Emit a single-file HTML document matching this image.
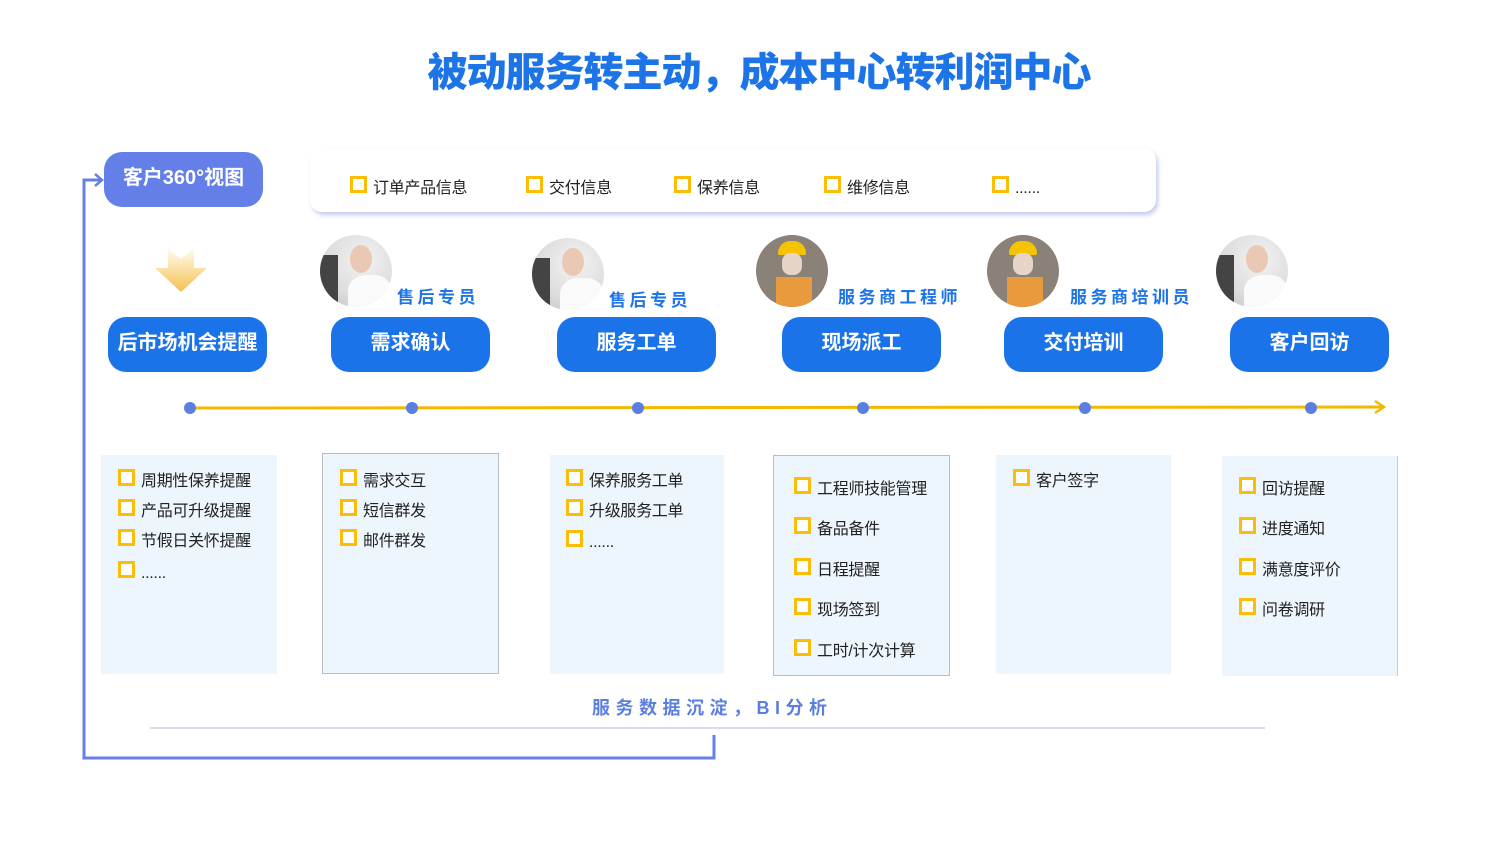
<!DOCTYPE html>
<html><head><meta charset="utf-8"><style>
*{margin:0;padding:0;box-sizing:border-box}
body{width:1500px;height:841px;background:#fff;position:relative;overflow:hidden;font-family:"Liberation Sans","Noto Sans CJK SC",sans-serif}
.a{position:absolute}
.title{left:0;width:1518px;top:46px;text-align:center;font-size:40px;font-weight:900;color:#1d74e6;letter-spacing:-1px;line-height:54px}
.btn{position:absolute;top:317px;width:159px;height:55px;border-radius:18px;background:#1a73e8;color:#fff;font-weight:700;font-size:20px;text-align:center;line-height:53px}
.role{position:absolute;color:#1d74e6;font-weight:700;font-size:17px;letter-spacing:3.5px}
.av{position:absolute;width:72px;height:72px;border-radius:50%;overflow:hidden;background:radial-gradient(circle at 60% 35%,#f3f3f3 0,#dcdcdc 60%,#bfbfbf 100%)}
.box{position:absolute;top:455px;height:219px;background:#eef6fd}
.it{position:absolute;font-size:16px;color:#222;white-space:nowrap;line-height:20px;letter-spacing:-0.3px}
.it:before{content:"";display:inline-block;width:11px;height:11px;border:3px solid #fbbd08;margin-right:6px;vertical-align:0px;background:#fff}
.dot{position:absolute;top:402px;width:12px;height:12px;border-radius:50%;background:#5b7fe0}
</style></head><body>
<div class="a title">被动服务转主动，成本中心转利润中心</div>

<div class="a" style="left:104px;top:152px;width:159px;height:55px;border-radius:18px;background:#6480e8;color:#fff;font-weight:700;font-size:20px;text-align:center;line-height:53px">客户360°视图</div>

<div class="a" style="left:310px;top:148px;width:846px;height:64px;border-radius:12px;background:#fff;box-shadow:2px 3px 4px rgba(120,140,220,0.45)"></div>
<div class="it" style="left:350px;top:176px">订单产品信息</div>
<div class="it" style="left:526px;top:176px">交付信息</div>
<div class="it" style="left:674px;top:176px">保养信息</div>
<div class="it" style="left:824px;top:176px">维修信息</div>
<div class="it" style="left:992px;top:176px">......</div>

<svg class="a" style="left:150px;top:245px" width="62" height="50"><defs><linearGradient id="g" x1="0" y1="0" x2="0" y2="1"><stop offset="0" stop-color="#fffdf0"/><stop offset="1" stop-color="#f3c050"/></linearGradient></defs><polygon points="18,3 31,14 44,3 44,23 57,23 31,47 5,23 18,23" fill="url(#g)"/></svg>

<div class="av" style="left:320px;top:235px"><div class="a" style="left:28px;top:40px;width:44px;height:40px;background:#fafafa;border-radius:40% 40% 0 0"></div><div class="a" style="left:30px;top:10px;width:22px;height:28px;border-radius:50%;background:#e9c8b4"></div><div class="a" style="left:0;top:20px;width:18px;height:52px;background:#444"></div></div>
<div class="av" style="left:532px;top:238px"><div class="a" style="left:28px;top:40px;width:44px;height:40px;background:#fafafa;border-radius:40% 40% 0 0"></div><div class="a" style="left:30px;top:10px;width:22px;height:28px;border-radius:50%;background:#e9c8b4"></div><div class="a" style="left:0;top:20px;width:18px;height:52px;background:#444"></div></div>
<div class="av" style="left:756px;top:235px;background:#8a8178"><div class="a" style="left:22px;top:6px;width:28px;height:14px;border-radius:14px 14px 2px 2px;background:#f5c400"></div><div class="a" style="left:26px;top:18px;width:20px;height:22px;background:#e6d4c6;border-radius:40%"></div><div class="a" style="left:20px;top:42px;width:36px;height:34px;background:#e89a3c"></div></div>
<div class="av" style="left:987px;top:235px;background:#8a8178"><div class="a" style="left:22px;top:6px;width:28px;height:14px;border-radius:14px 14px 2px 2px;background:#f5c400"></div><div class="a" style="left:26px;top:18px;width:20px;height:22px;background:#e6d4c6;border-radius:40%"></div><div class="a" style="left:20px;top:42px;width:36px;height:34px;background:#e89a3c"></div></div>
<div class="av" style="left:1216px;top:235px"><div class="a" style="left:28px;top:40px;width:44px;height:40px;background:#fafafa;border-radius:40% 40% 0 0"></div><div class="a" style="left:30px;top:10px;width:22px;height:28px;border-radius:50%;background:#e9c8b4"></div><div class="a" style="left:0;top:20px;width:18px;height:52px;background:#444"></div></div>

<div class="role" style="left:397px;top:283px">售后专员</div>
<div class="role" style="left:609px;top:286px">售后专员</div>
<div class="role" style="left:838px;top:283px">服务商工程师</div>
<div class="role" style="left:1070px;top:283px">服务商培训员</div>

<div class="btn" style="left:108px">后市场机会提醒</div>
<div class="btn" style="left:331px">需求确认</div>
<div class="btn" style="left:557px">服务工单</div>
<div class="btn" style="left:782px">现场派工</div>
<div class="btn" style="left:1004px">交付培训</div>
<div class="btn" style="left:1230px">客户回访</div>

<svg class="a" style="left:0;top:0" width="1500" height="841">
<line x1="190" y1="408" x2="1382" y2="407" stroke="#f5b800" stroke-width="3"/>
<polyline points="1375,401 1384,407 1375,413" fill="none" stroke="#f5b800" stroke-width="2.5"/>
<polyline points="714,735 714,758 84,758 84,180 100,180" fill="none" stroke="#6480e8" stroke-width="3"/>
<polyline points="95,174 102,180 95,186" fill="none" stroke="#6480e8" stroke-width="2.5"/>
<line x1="150" y1="728" x2="1265" y2="728" stroke="#d8dde8" stroke-width="2"/>
</svg>
<div class="dot" style="left:184px"></div><div class="dot" style="left:406px"></div><div class="dot" style="left:632px"></div><div class="dot" style="left:857px"></div><div class="dot" style="left:1079px"></div><div class="dot" style="left:1305px"></div>

<div class="box" style="left:101px;width:176px"></div>
<div class="box" style="left:322px;width:177px;top:453px;height:221px;border:1px solid #b8bcc4"></div>
<div class="box" style="left:550px;width:174px"></div>
<div class="box" style="left:773px;width:177px;top:455px;height:221px;border:1px solid #b8bcc4"></div>
<div class="box" style="left:996px;width:175px"></div>
<div class="box" style="left:1222px;width:176px;top:456px;height:220px;border-right:1px solid #c8ccd4"></div>

<div class="it" style="left:118px;top:469px">周期性保养提醒</div>
<div class="it" style="left:118px;top:499px">产品可升级提醒</div>
<div class="it" style="left:118px;top:529px">节假日关怀提醒</div>
<div class="it" style="left:118px;top:561px">......</div>

<div class="it" style="left:340px;top:469px">需求交互</div>
<div class="it" style="left:340px;top:499px">短信群发</div>
<div class="it" style="left:340px;top:529px">邮件群发</div>

<div class="it" style="left:566px;top:469px">保养服务工单</div>
<div class="it" style="left:566px;top:499px">升级服务工单</div>
<div class="it" style="left:566px;top:530px">......</div>

<div class="it" style="left:794px;top:477px">工程师技能管理</div>
<div class="it" style="left:794px;top:517px">备品备件</div>
<div class="it" style="left:794px;top:558px">日程提醒</div>
<div class="it" style="left:794px;top:598px">现场签到</div>
<div class="it" style="left:794px;top:639px">工时/计次计算</div>

<div class="it" style="left:1013px;top:469px">客户签字</div>

<div class="it" style="left:1239px;top:477px">回访提醒</div>
<div class="it" style="left:1239px;top:517px">进度通知</div>
<div class="it" style="left:1239px;top:558px">满意度评价</div>
<div class="it" style="left:1239px;top:598px">问卷调研</div>

<div class="a" style="left:592px;top:694px;font-size:18px;font-weight:700;color:#5b7fe0;letter-spacing:5.5px;white-space:nowrap">服务数据沉淀，BI分析</div>
</body></html>
